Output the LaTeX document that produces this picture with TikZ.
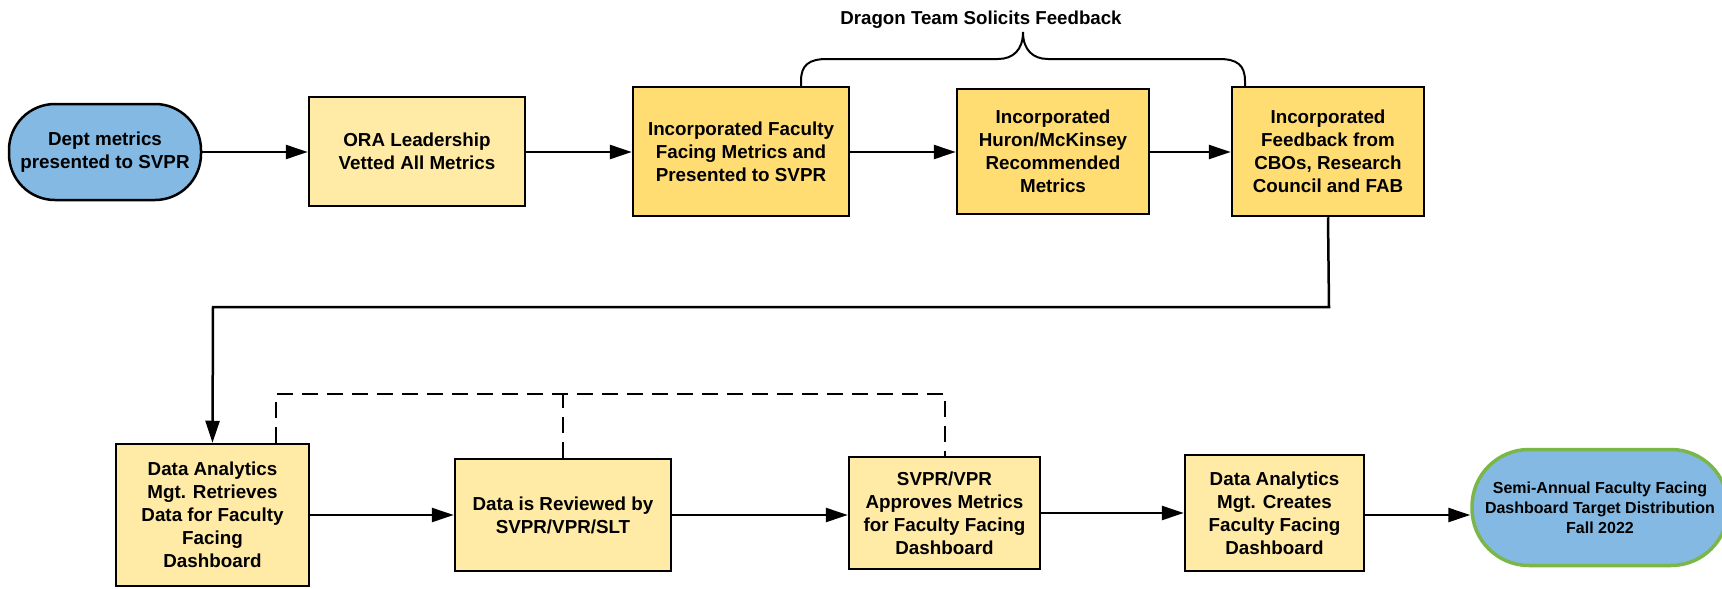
\documentclass[tikz,border=0pt]{standalone}
\usepackage{fontspec}
\setmainfont{Liberation Sans}
\usetikzlibrary{arrows.meta,calc}
\definecolor{lightyel}{HTML}{FFEBA5}
\definecolor{darkyel}{HTML}{FFDD73}
\definecolor{termblue}{HTML}{83B9E3}
\definecolor{termgreen}{HTML}{7AB648}
\tikzset{
  box/.style={draw=black, line width=2.5pt, align=center, inner sep=0pt,
    font=\fontsize{18.8}{23}\selectfont\bfseries},
  lbox/.style={box, fill=lightyel},
  dbox/.style={box, fill=darkyel},
  term/.style={draw=black, line width=2.5pt, fill=termblue, align=center, inner sep=0pt,
    font=\fontsize{18.8}{23}\selectfont\bfseries},
  conn/.style={line width=2.5pt, -{Triangle[length=22pt,width=14pt]}},
  dashconn/.style={line width=2.5pt, dash pattern=on 16pt off 9pt},
}
\begin{document}
\begin{tikzpicture}[x=1pt,y=-1pt]
\useasboundingbox (0,0) rectangle (1722,589);
% top row
\node[term, rounded corners=46pt, minimum width=192pt, minimum height=96pt] (dept) at (105,152) {Dept metrics\\presented to SVPR};
\node[lbox, minimum width=216pt, minimum height=109pt] (ora) at (417,151.5) {ORA Leadership\\Vetted All Metrics};
\node[dbox, minimum width=216pt, minimum height=129pt] (incfac) at (741,151.5) {Incorporated Faculty\\Facing Metrics and\\Presented to SVPR};
\node[dbox, minimum width=192pt, minimum height=125pt] (huron) at (1053,151.5) {Incorporated\\Huron/McKinsey\\Recommended\\Metrics};
\node[dbox, minimum width=192pt, minimum height=129pt] (cbos) at (1328,151.5) {Incorporated\\Feedback from\\CBOs, Research\\Council and FAB};
% bottom row
\node[lbox, minimum width=193pt, minimum height=142pt] (retr) at (212.5,515) {Data Analytics\\Mgt. Retrieves\\Data for Faculty\\Facing\\Dashboard};
\node[lbox, minimum width=216pt, minimum height=112pt] (rev) at (563,515) {Data is Reviewed by\\SVPR/VPR/SLT};
\node[lbox, minimum width=191pt, minimum height=112pt] (appr) at (944.5,513) {SVPR/VPR\\Approves Metrics\\for Faculty Facing\\Dashboard};
\node[lbox, minimum width=179pt, minimum height=116pt] (creates) at (1274.5,513) {Data Analytics\\Mgt. Creates\\Faculty Facing\\Dashboard};
\node[term, draw=termgreen, line width=3.5pt, rounded corners=57pt, minimum width=256pt, minimum height=116pt,
  font=\fontsize{16}{20}\selectfont\bfseries] (semi) at (1600,507.5) {Semi-Annual Faculty Facing\\Dashboard Target Distribution\\Fall 2022};
% label
\node[font=\fontsize{18.7}{22}\selectfont\bfseries, inner sep=0pt] (dragon) at (981,20) {Dragon Team Solicits Feedback};
% top connectors
\draw[conn] (dept.east) -- (ora.west |- dept.east);
\draw[conn] (ora.east |- dept.east) -- (incfac.west |- dept.east);
\draw[conn] (incfac.east |- dept.east) -- (huron.west |- dept.east);
\draw[conn] (huron.east |- dept.east) -- (cbos.west |- dept.east);
% brace
\coordinate (bl) at (801,59);
\coordinate (br) at (1245,59);
\coordinate (tip) at (1023,32);
\draw[line width=2pt] (incfac.north -| bl) -- ($(bl)+(0,22)$) .. controls ($(bl)+(0,6)$) and ($(bl)+(8,0)$) .. ($(bl)+(26,0)$)
  -- ($(tip)+(-25,27)$) .. controls ($(tip)+(-10,27)$) and ($(tip)+(0,18)$) .. (tip)
  .. controls ($(tip)+(0,18)$) and ($(tip)+(10,27)$) .. ($(tip)+(25,27)$)
  -- ($(br)+(-26,0)$) .. controls ($(br)+(-8,0)$) and ($(br)+(0,6)$) .. ($(br)+(0,22)$) -- (cbos.north -| br);
% long connector
\coordinate (turnr) at (1329,307);
\coordinate (turnl) at (213,307);
\draw[conn] (cbos.south) -- (turnr) -- (turnl) -- (retr.north);
% dashed feedback
\coordinate (dl) at (276,394);
\coordinate (dr) at (945,394);
\draw[dashconn] (retr.north -| dl) -- (dl) -- (dr) -- (appr.north -| dr);
\draw[dashconn] (rev.north) -- (rev.north |- dl);
% bottom connectors
\draw[conn] (retr.east |- rev.center) -- (rev.west);
\draw[conn] (rev.east) -- (appr.west |- rev.east);
\draw[conn] (appr.east) -- (creates.west |- appr.east);
\draw[conn] (creates.east |- rev.east) -- (semi.west |- rev.east);
\end{tikzpicture}
\end{document}
